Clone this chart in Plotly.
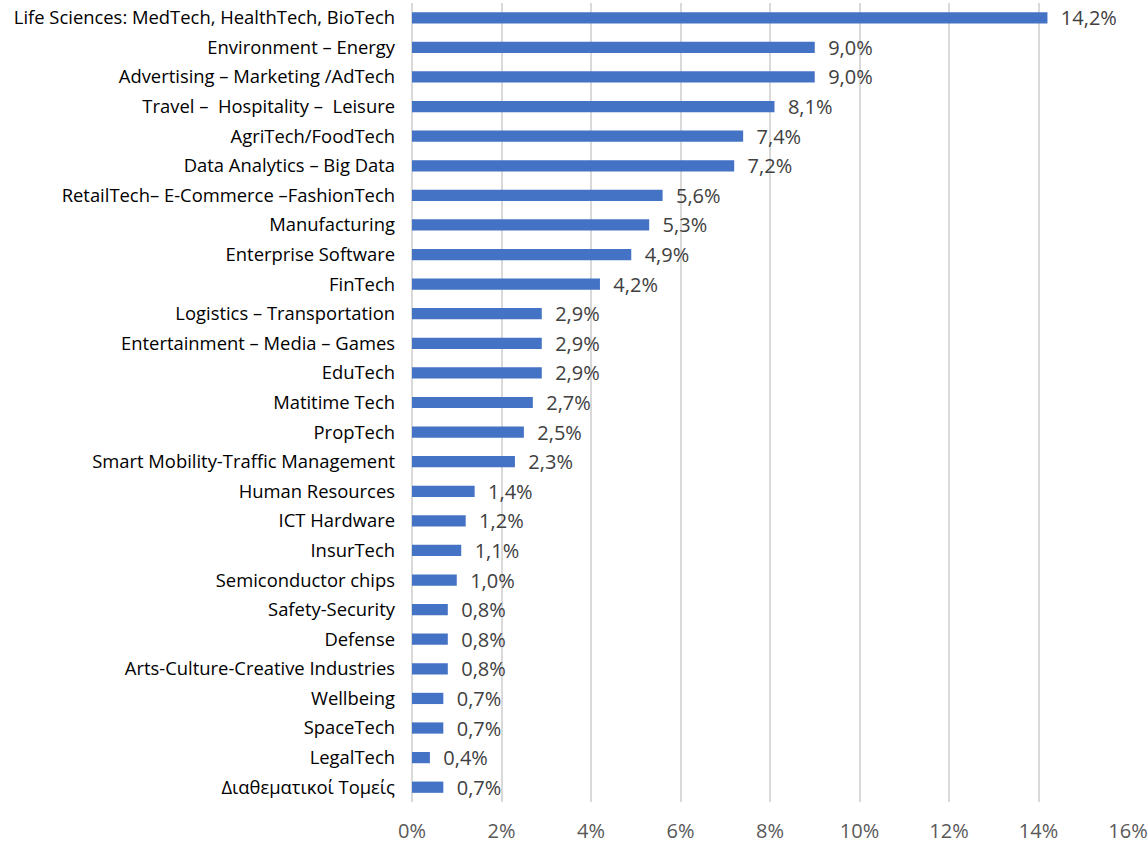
import plotly.graph_objects as go

categories = [
    "Life Sciences: MedTech, HealthTech, BioTech",
    "Environment – Energy",
    "Advertising – Marketing /AdTech",
    "Travel –  Hospitality –  Leisure",
    "AgriTech/FoodTech",
    "Data Analytics – Big Data",
    "RetailTech– E-Commerce –FashionTech",
    "Manufacturing",
    "Enterprise Software",
    "FinTech",
    "Logistics – Transportation",
    "Entertainment – Media – Games",
    "EduTech",
    "Matitime Tech",
    "PropTech",
    "Smart Mobility-Traffic Management",
    "Human Resources",
    "ICT Hardware",
    "InsurTech",
    "Semiconductor chips",
    "Safety-Security",
    "Defense",
    "Arts-Culture-Creative Industries",
    "Wellbeing",
    "SpaceTech",
    "LegalTech",
    "Διαθεματικοί Τομείς",
]
values = [14.2, 9.0, 9.0, 8.1, 7.4, 7.2, 5.6, 5.3, 4.9, 4.2, 2.9, 2.9, 2.9, 2.7,
          2.5, 2.3, 1.4, 1.2, 1.1, 1.0, 0.8, 0.8, 0.8, 0.7, 0.7, 0.4, 0.7]
tick_vals = [0, 2, 4, 6, 8, 10, 12, 14, 16]
tick_text = ["0%", "2%", "4%", "6%", "8%", "10%", "12%", "14%", "16%"]

labels = ["  " + f"{v:.1f}".replace(".", ",") + "%" for v in values]

FONT = "Open Sans, Liberation Sans, sans-serif"

fig = go.Figure(go.Bar(
    x=values,
    y=categories,
    orientation="h",
    marker=dict(color="#4472C4", line=dict(width=0)),
    width=0.38,
    text=labels,
    textposition="outside",
    constraintext="none",
    cliponaxis=False,
    hoverinfo="skip",
    textfont=dict(family=FONT, size=20, color="#404040"),
))

fig.update_layout(
    width=1148, height=844,
    margin=dict(l=412, r=20, t=3, b=42),
    plot_bgcolor="white", paper_bgcolor="white",
    showlegend=False,
    hovermode=False,
    font=dict(family=FONT),
)
fig.update_xaxes(
    range=[0, 16], tickvals=tick_vals, ticktext=tick_text,
    showgrid=True, gridcolor="#D9D9D9", gridwidth=2,
    zeroline=True, zerolinecolor="#D9D9D9", zerolinewidth=2,
    showline=False, ticks="", ticklabelstandoff=15, automargin=False,
    tickfont=dict(family=FONT, size=20, color="#595959"),
)
fig.update_yaxes(
    categoryorder="array", categoryarray=categories, autorange="reversed",
    showgrid=False, ticks="", ticklabelstandoff=16, showline=False, automargin=False,
    tickfont=dict(family=FONT, size=18.4, color="#000000"),
)

fig.write_html(
    "out.html",
    config={"displayModeBar": False, "staticPlot": True},
    post_script="document.body.style.margin='0';document.body.style.padding='0';",
)
